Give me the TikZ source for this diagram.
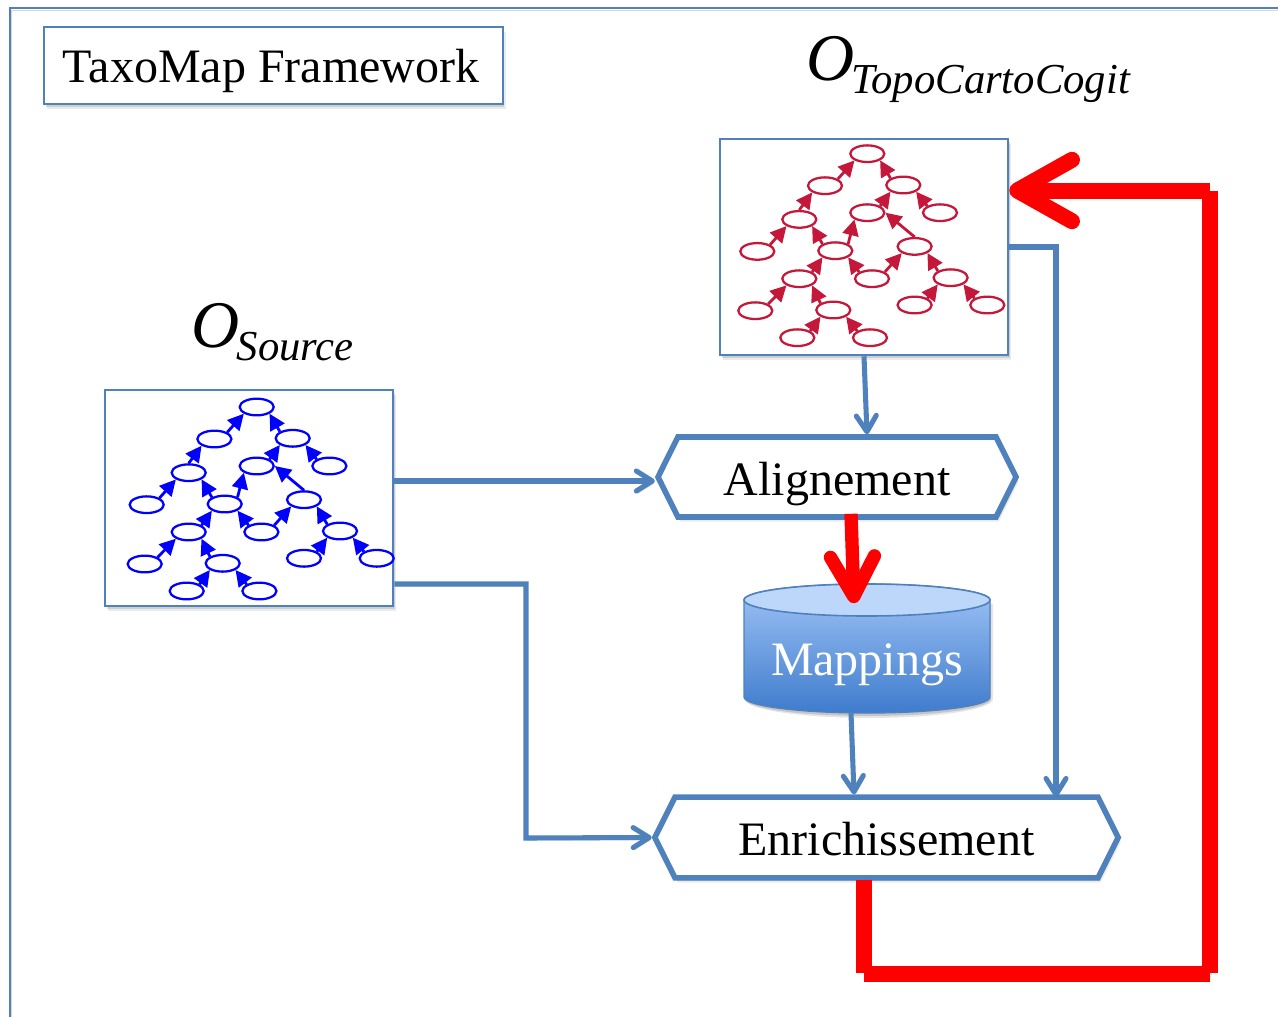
\documentclass[tikz,border=0pt]{standalone}
\usepackage{fontspec}
\setmainfont{Liberation Serif}
\usetikzlibrary{arrows.meta,shapes.geometric,shapes.symbols,shadows,calc}
\definecolor{bord}{HTML}{4F81BD}
\definecolor{crim}{HTML}{C4173A}
\definecolor{treeblue}{HTML}{0000FF}
\definecolor{cyltop}{HTML}{BDD7FB}
\definecolor{cylhi}{HTML}{A0C4F6}
\definecolor{cyllo}{HTML}{3F7CCD}
\newcommand{\bigtxt}{\fontsize{36}{42}\selectfont}
\newcommand{\onto}[1]{\itshape\fontsize{50}{56}\selectfont O\kern-2pt\raisebox{-10pt}{\fontsize{32}{36}\selectfont #1}}
\tikzset{
  softshadow/.style={
    drop shadow={shadow xshift=0.6pt,shadow yshift=-1pt,opacity=.12,fill=black},
    drop shadow={shadow xshift=1.2pt,shadow yshift=-2.2pt,opacity=.12,fill=black},
    drop shadow={shadow xshift=2pt,shadow yshift=-3.5pt,opacity=.08,fill=black}},
  lineshadow/.style={preaction={draw=black,draw opacity=.16,transform canvas={xshift=1pt,yshift=-1.8pt}}},
  framebox/.style={draw=bord,line width=1.9pt,fill=white,softshadow,inner sep=0pt},
  hexbox/.style={shape=signal,signal to=west and east,signal pointer angle=127,draw=bord,line width=4.2pt,fill=white,softshadow,inner sep=0pt,font=\bigtxt,text height=27pt,text depth=0pt},
  link/.style={draw=bord,line width=3.8pt,line join=miter,lineshadow,-{Straight Barb[length=12pt,width=15pt,round]}},
  redarrow/.style={draw=red,line width=10pt,lineshadow,-{Straight Barb[length=30pt,width=33pt,round]}},
  redseg/.style={draw=red,line width=12pt,lineshadow},
  redhead/.style={draw=red,line width=12pt,lineshadow,-{Straight Barb[length=41pt,width=46pt,round]}},
  tnode/.style={ellipse,draw=#1,line width=1.7pt,minimum width=25.5pt,minimum height=12.5pt,inner sep=0pt,fill=white},
  tedge/.style={draw=#1,line width=2.1pt,-{Triangle[length=12pt,width=12pt]}},
}
% tree: #1 prefix, #2 colour, (#3,#4) root position
\newcommand{\ontotree}[4]{%
  \begin{scope}[shift={(#3,#4)}]
    \foreach \n/\dx/\dy in {a/0/0,b/-42.3/32,c/36/31.3,d/72.7/59,e/0/59,f/-68/65.7,g/-110/97.7,h/-32/97,i/47.3/92.7,j/-68/125,k/4.7/125,l/83.3/124,m/-112/157,n/-34/156.3,o/47.3/151.3,p/120/151.3,q/-70/184,r/2.7/184}
      \node[tnode=#2] (#1\n) at (\dx,\dy) {};
    \foreach \s/\sa/\t/\ta in {b/north east/a/south west,c/north west/a/south east,f/north/b/south west,e/north east/c/south west,d/north west/c/south east,g/north east/f/south west,h/north west/f/south east,h/north east/e/south west,i/north/e/east,j/north east/h/south west,k/north west/h/south east,k/north east/i/south west,l/north west/i/south east,m/north east/j/south west,n/north west/j/south east,o/north east/l/south west,p/north west/l/south east,q/north east/n/south west,r/north west/n/south east}
      \draw[tedge=#2] (#1\s.\sa) -- (#1\t.\ta);
  \end{scope}}
\begin{document}
\begin{tikzpicture}[x=0.75pt,y=-0.75pt]
\useasboundingbox (0,0) rectangle (1278,1017);
% outer frame
\coordinate (fa) at (10,1017);
\coordinate (fb) at (10,8);
\coordinate (fc) at (1278,8);
\draw[bord,line width=1.5pt,lineshadow] (fa) -- (fb) -- (fc);
% title
\node[framebox,minimum width=344pt,minimum height=57.5pt,font=\bigtxt,text height=26pt,text depth=0pt] (title) at (273.5,65.5) {TaxoMap Framework\kern3.5pt};
% ontology labels
\node[anchor=base west,inner sep=0pt] (ltopo) at (806,80) {\onto{TopoCartoCogit}};
\node[anchor=base west,inner sep=0pt] (lsrc) at (191,347) {\onto{Source}};
% ontology boxes
\node[framebox,minimum width=216pt,minimum height=162pt] (topo) at (864,247) {};
\node[framebox,minimum width=216pt,minimum height=162pt] (src) at (249,498) {};
\ontotree{t}{crim}{867.3}{153.7}
\ontotree{s}{treeblue}{256.7}{407}
% processes
\node[hexbox,minimum width=268.5pt,minimum height=60pt] (align) at (837,477) {Alignement};
\node[hexbox,minimum width=347.5pt,minimum height=60.5pt] (enrich) at (886.5,837.5) {Enrichissement};
% mappings cylinder
\fill[black,opacity=.1] (745,604) -- (745,699) arc[start angle=180,end angle=0,x radius=124,y radius=19] -- (993,604) -- cycle;
\fill[black,opacity=.14] (745,602) -- (745,699) arc[start angle=180,end angle=0,x radius=123,y radius=17] -- (991,602) -- cycle;
\draw[bord,line width=1pt,top color=cylhi,bottom color=cyllo]
  (744,600) -- (744,697) arc[start angle=180,end angle=0,x radius=123,y radius=16] -- (990,600) arc[start angle=360,end angle=180,x radius=123,y radius=16] -- cycle;
\draw[bord,line width=1.2pt,fill=cyltop] (867,600) ellipse[x radius=123,y radius=16];
\node[minimum width=184.5pt,minimum height=96pt,inner sep=0pt,text=white,font=\bigtxt,text height=40pt,text depth=0pt] (map) at (867,648.5) {Mappings};
% connectors
\draw[link] (src.east |- 0,481) -- (align.west |- 0,481);
\draw[link] (src.east |- 0,584) -- (526,584) -- (526,838) -- (enrich.west);
\draw[link] (topo.south) -- ($(align.north)+(30,0)$);
\draw[link] (topo.east |- 0,247) -- (1056,247) -- (1056,797);
\draw[link] ($(map.south)+(-16,0)$) -- ($(enrich.north)+(-32.5,0)$);
\draw[redarrow] ($(align.south)+(14,-6)$) -- ($(map.north)+(-13,19)$);
\coordinate (r1) at (864,973.5);
\coordinate (r2) at (1209.5,973.5);
\coordinate (r3) at (1209.5,190.5);
\draw[redseg] ($(enrich.south)+(-22.5,-1)$) -- (r1 |- 0,973);
\draw[redseg] (r1) -- (r2);
\draw[redseg] (r2 |- 0,973) -- (r3 |- 0,191);
\draw[redhead] (r3) -- (topo.east |- r3);
\end{tikzpicture}
\end{document}
